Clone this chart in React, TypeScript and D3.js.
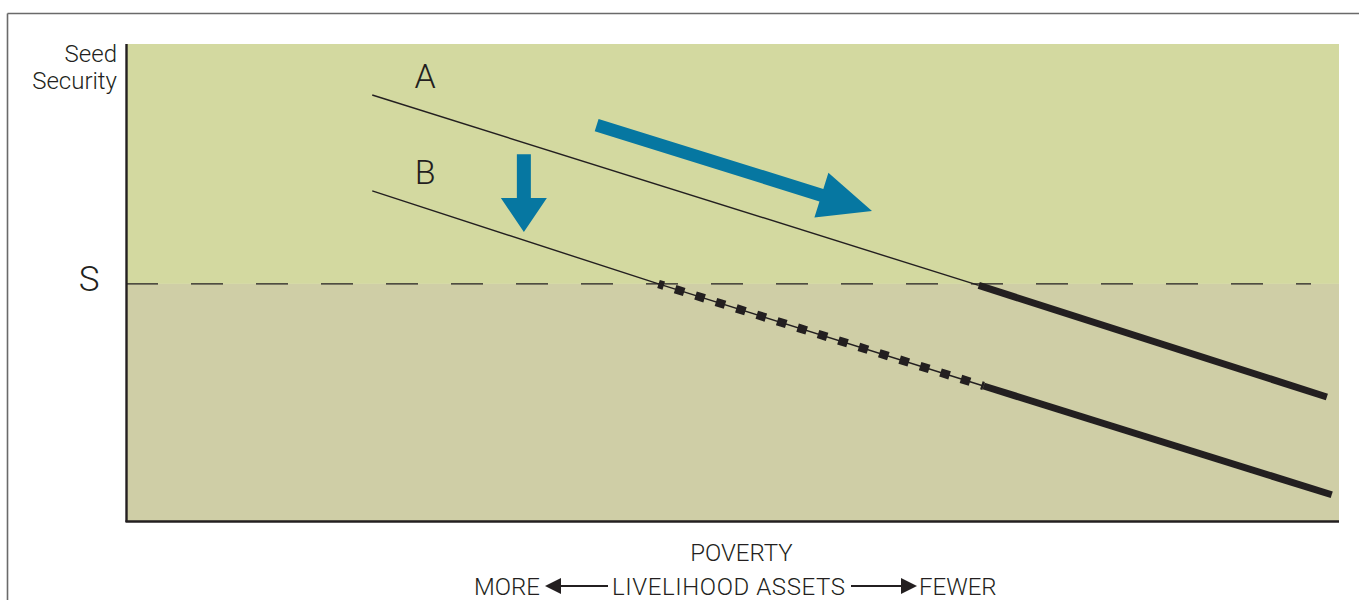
import React from "react";
import * as d3 from "d3";

// poverty (x) and seed security (y) in 0..100 units
const povertyExtent = [0, 100];
const seedExtent = [0, 100];
const thresholdS = 49.7;

// household A: thin above S, thick below
const lineAPoverty = [20.3, 70.3, 99.0];
const lineASeed = [89.3, 49.4, 26.0];

// household B: thin, then dotted (stressed), then thick
const lineBPoverty = [20.3, 43.9, 70.7, 99.4];
const lineBSeed = [69.2, 49.7, 28.3, 5.5];

// blue shift arrows [tailX, tailY, tipX, tipY]
const shiftArrowAcross = [38.8, 83.0, 61.5, 65.0];
const shiftArrowDown = [32.8, 76.9, 32.8, 60.6];

const lineLabels = ["A", "B"];

const W = 1359;
const H = 600;
const plot = { left: 126, right: 1339, top: 44, bottom: 521 };

const ink = "#231f20";
const blue = "#0677a1";
const font = "Roboto, 'Liberation Sans', sans-serif";
const weight = 300;

function arrowPath(x0: number, y0: number, x1: number, y1: number, shaftW: number, headL: number, headW: number) {
  const dx = x1 - x0;
  const dy = y1 - y0;
  const len = Math.sqrt(dx * dx + dy * dy);
  const ux = dx / len, uy = dy / len;
  const nx = -uy, ny = ux;
  const bx = x1 - ux * headL, by = y1 - uy * headL;
  const p = d3.path();
  p.moveTo(x0 + nx * shaftW / 2, y0 + ny * shaftW / 2);
  p.lineTo(bx + nx * shaftW / 2, by + ny * shaftW / 2);
  p.lineTo(bx + nx * headW / 2, by + ny * headW / 2);
  p.lineTo(x1, y1);
  p.lineTo(bx - nx * headW / 2, by - ny * headW / 2);
  p.lineTo(bx - nx * shaftW / 2, by - ny * shaftW / 2);
  p.lineTo(x0 - nx * shaftW / 2, y0 - ny * shaftW / 2);
  p.closePath();
  return p.toString();
}

export default function App() {
  const x = d3.scaleLinear().domain(povertyExtent).range([plot.left, plot.right]);
  const y = d3.scaleLinear().domain(seedExtent).range([plot.bottom, plot.top]);
  const line = d3.line<number[]>().x(d => x(d[0])).y(d => y(d[1]));

  const pts = (px: number[], py: number[]) => px.map((v, i) => [v, py[i]]);
  const A = pts(lineAPoverty, lineASeed);
  const B = pts(lineBPoverty, lineBSeed);

  const sY = y(thresholdS);

  const bigArrow = arrowPath(
    x(shiftArrowAcross[0]), y(shiftArrowAcross[1]),
    x(shiftArrowAcross[2]), y(shiftArrowAcross[3]), 13, 53, 47);
  const downArrow = arrowPath(
    x(shiftArrowDown[0]), y(shiftArrowDown[1]),
    x(shiftArrowDown[2]), y(shiftArrowDown[3]), 14, 34, 46);

  const rowY = 595;
  const arrowY = rowY - 9;

  return (
    <div style={{ position: "absolute", left: 0, top: 0 }}>
      <svg width={W} height={H} style={{ display: "block" }}>
        <rect x={0} y={0} width={W} height={H} fill="#ffffff" />
        {/* frame */}
        <line x1={7.5} y1={13.5} x2={W} y2={13.5} stroke="#6a6a6a" strokeWidth={1.6} />
        <line x1={7.5} y1={13.5} x2={7.5} y2={H} stroke="#6a6a6a" strokeWidth={1.6} />

        {/* zones */}
        <rect x={plot.left} y={plot.top} width={plot.right - plot.left} height={sY - plot.top} fill="#d3d9a0" />
        <rect x={plot.left} y={sY} width={plot.right - plot.left} height={plot.bottom - sY} fill="#cfcea6" />

        {/* threshold */}
        <line x1={plot.left} y1={sY} x2={plot.right - 28} y2={sY} stroke={ink} strokeWidth={1.2} strokeDasharray="32 33" />

        {/* axes */}
        <line x1={plot.left + 0.5} y1={plot.top} x2={plot.left + 0.5} y2={plot.bottom + 1} stroke={ink} strokeWidth={2.4} />
        <line x1={plot.left - 0.5} y1={plot.bottom + 0.5} x2={plot.right} y2={plot.bottom + 0.5} stroke={ink} strokeWidth={2.4} />

        {/* line A */}
        <path d={line(A.slice(0, 2)) || ""} fill="none" stroke={ink} strokeWidth={1.4} />
        <path d={line(A.slice(1, 3)) || ""} fill="none" stroke={ink} strokeWidth={7} />

        {/* line B */}
        <path d={line(B.slice(0, 3)) || ""} fill="none" stroke={ink} strokeWidth={1.4} />
        <path d={line(B.slice(1, 3)) || ""} fill="none" stroke={ink} strokeWidth={8.5} strokeDasharray="9.5 11.9" strokeDashoffset={4} />
        <path d={line(B.slice(2, 4)) || ""} fill="none" stroke={ink} strokeWidth={7} />

        {/* labels A, B */}
        {[A, B].map((pl, i) => (
          <text key={lineLabels[i]} x={x(pl[0][0]) + 53} y={y(pl[0][1]) - 7} fontFamily={font} fontWeight={weight} fontSize={34} fill={ink} textAnchor="middle">
            {lineLabels[i]}
          </text>
        ))}

        {/* shift arrows */}
        <path d={bigArrow} fill={blue} />
        <path d={downArrow} fill={blue} />

        {/* y labels */}
        <text x={117} y={62} fontFamily={font} fontWeight={weight} fontSize={24} fill={ink} textAnchor="end">Seed</text>
        <text x={117} y={89} fontFamily={font} fontWeight={weight} fontSize={24} fill={ink} textAnchor="end">Security</text>
        <text x={89} y={sY + 7} fontFamily={font} fontWeight={weight} fontSize={35} fill={ink} textAnchor="middle">S</text>

        {/* x labels */}
        <text x={741.5} y={561} fontFamily={font} fontWeight={weight} fontSize={24} fill={ink} textAnchor="middle">POVERTY</text>
        <text x={540} y={rowY} fontFamily={font} fontWeight={weight} fontSize={24} fill={ink} textAnchor="end">MORE</text>
        <line x1={558} y1={arrowY} x2={608} y2={arrowY} stroke={ink} strokeWidth={2.2} />
        <path d={`M545,${arrowY} L561,${arrowY - 8} L561,${arrowY + 8} Z`} fill={ink} />
        <text x={612} y={rowY} fontFamily={font} fontWeight={weight} fontSize={24} fill={ink} textLength={233}>LIVELIHOOD ASSETS</text>
        <line x1={851} y1={arrowY} x2={904} y2={arrowY} stroke={ink} strokeWidth={2.2} />
        <path d={`M917,${arrowY} L901,${arrowY - 8} L901,${arrowY + 8} Z`} fill={ink} />
        <text x={919} y={rowY} fontFamily={font} fontWeight={weight} fontSize={24} fill={ink}>FEWER</text>
      </svg>
    </div>
  );
}
